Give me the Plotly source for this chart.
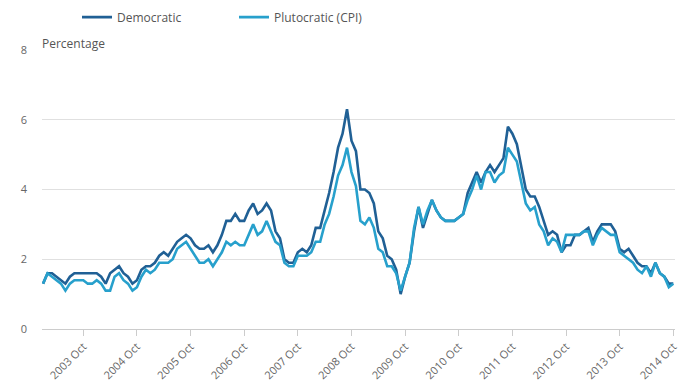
import plotly.graph_objects as go

month_names = ["Jan", "Feb", "Mar", "Apr", "May", "Jun",
               "Jul", "Aug", "Sep", "Oct", "Nov", "Dec"]
years = list(range(2003, 2015))
months = [f"{y} {m}" for y in years for m in month_names][:142]  # Jan 2003 .. Oct 2014

democratic = [
    1.3, 1.6, 1.6, 1.5, 1.4, 1.3, 1.5, 1.6, 1.6, 1.6, 1.6, 1.6,   # 2003
    1.6, 1.5, 1.3, 1.6, 1.7, 1.8, 1.6, 1.5, 1.3, 1.4, 1.7, 1.8,   # 2004
    1.8, 1.9, 2.1, 2.2, 2.1, 2.3, 2.5, 2.6, 2.7, 2.6, 2.4, 2.3,   # 2005
    2.3, 2.4, 2.2, 2.4, 2.7, 3.1, 3.1, 3.3, 3.1, 3.1, 3.4, 3.6,   # 2006
    3.3, 3.4, 3.6, 3.4, 2.8, 2.6, 2.0, 1.9, 1.9, 2.2, 2.3, 2.2,   # 2007
    2.4, 2.9, 2.9, 3.4, 3.9, 4.5, 5.2, 5.6, 6.3, 5.4, 5.1, 4.0,   # 2008
    4.0, 3.9, 3.6, 2.8, 2.6, 2.1, 2.0, 1.7, 1.0, 1.5, 1.9, 2.8,   # 2009
    3.5, 2.9, 3.3, 3.7, 3.4, 3.2, 3.1, 3.1, 3.1, 3.2, 3.3, 3.9,   # 2010
    4.2, 4.5, 4.2, 4.5, 4.7, 4.5, 4.7, 4.9, 5.8, 5.6, 5.3, 4.7,   # 2011
    4.0, 3.8, 3.8, 3.5, 3.1, 2.7, 2.8, 2.7, 2.2, 2.4, 2.4, 2.7,   # 2012
    2.7, 2.8, 2.9, 2.5, 2.8, 3.0, 3.0, 3.0, 2.8, 2.3, 2.2, 2.3,   # 2013
    2.1, 1.9, 1.8, 1.8, 1.6, 1.9, 1.6, 1.5, 1.3, 1.3,             # 2014
]

plutocratic = [
    1.3, 1.6, 1.5, 1.4, 1.3, 1.1, 1.3, 1.4, 1.4, 1.4, 1.3, 1.3,   # 2003
    1.4, 1.3, 1.1, 1.1, 1.5, 1.6, 1.4, 1.3, 1.1, 1.2, 1.5, 1.7,   # 2004
    1.6, 1.7, 1.9, 1.9, 1.9, 2.0, 2.3, 2.4, 2.5, 2.3, 2.1, 1.9,   # 2005
    1.9, 2.0, 1.8, 2.0, 2.2, 2.5, 2.4, 2.5, 2.4, 2.4, 2.7, 3.0,   # 2006
    2.7, 2.8, 3.1, 2.8, 2.5, 2.4, 1.9, 1.8, 1.8, 2.1, 2.1, 2.1,   # 2007
    2.2, 2.5, 2.5, 3.0, 3.3, 3.8, 4.4, 4.7, 5.2, 4.5, 4.1, 3.1,   # 2008
    3.0, 3.2, 2.9, 2.3, 2.2, 1.8, 1.8, 1.6, 1.1, 1.5, 1.9, 2.9,   # 2009
    3.5, 3.0, 3.4, 3.7, 3.4, 3.2, 3.1, 3.1, 3.1, 3.2, 3.3, 3.7,   # 2010
    4.0, 4.4, 4.0, 4.5, 4.5, 4.2, 4.4, 4.5, 5.2, 5.0, 4.8, 4.2,   # 2011
    3.6, 3.4, 3.5, 3.0, 2.8, 2.4, 2.6, 2.5, 2.2, 2.7, 2.7, 2.7,   # 2012
    2.7, 2.8, 2.8, 2.4, 2.7, 2.9, 2.8, 2.7, 2.7, 2.2, 2.1, 2.0,   # 2013
    1.9, 1.7, 1.6, 1.8, 1.5, 1.9, 1.6, 1.5, 1.2, 1.3,             # 2014
]

tick_labels = [f"{y} Oct" for y in years]
y_ticks = [0, 2, 4, 6, 8]

DARK = "#206095"
LIGHT = "#27a0cc"
FONT = "Open Sans"

fig = go.Figure()
fig.add_trace(go.Scatter(x=months, y=democratic, mode="lines", name="Democratic",
                         line=dict(color=DARK, width=2.6)))
fig.add_trace(go.Scatter(x=months, y=plutocratic, mode="lines", name="Plutocratic (CPI)",
                         line=dict(color=LIGHT, width=2.6)))

fig.update_layout(
    width=687, height=383,
    margin=dict(l=34, r=20, t=42, b=62, autoexpand=False),
    paper_bgcolor="white", plot_bgcolor="white",
    font=dict(family=FONT, size=11, color="#666666"),
    showlegend=True,
    legend=dict(orientation="h", x=0.0553, xanchor="left", y=1.118, yanchor="middle",
                font=dict(family=FONT, size=12, color="#555555"),
                entrywidth=112, entrywidthmode="pixels", bgcolor="rgba(0,0,0,0)"),
    xaxis=dict(type="category", categoryorder="array", categoryarray=months,
               range=[-0.24, 141.38], automargin=False,
               tickmode="array", tickvals=tick_labels, ticktext=tick_labels,
               tickangle=-45, ticks="outside", ticklen=6, tickcolor="#cccccc",
               showline=True, linecolor="#cccccc", linewidth=1,
               showgrid=False, zeroline=False,
               tickfont=dict(family=FONT, size=11, color="#666666")),
    yaxis=dict(range=[0, 8], tickvals=y_ticks, ticks="", showline=False,
               showgrid=True, gridcolor="#e0e0e0", gridwidth=1, zeroline=False,
               ticklabelstandoff=14, automargin=False,
               tickfont=dict(family=FONT, size=11, color="#666666")),
    annotations=[dict(text="Percentage", xref="paper", yref="paper", x=0, y=1,
                      xanchor="left", yanchor="bottom", showarrow=False,
                      xshift=-2, yshift=-4,
                      font=dict(family=FONT, size=12, color="#555555"))],
)

fig.write_html("out.html")
